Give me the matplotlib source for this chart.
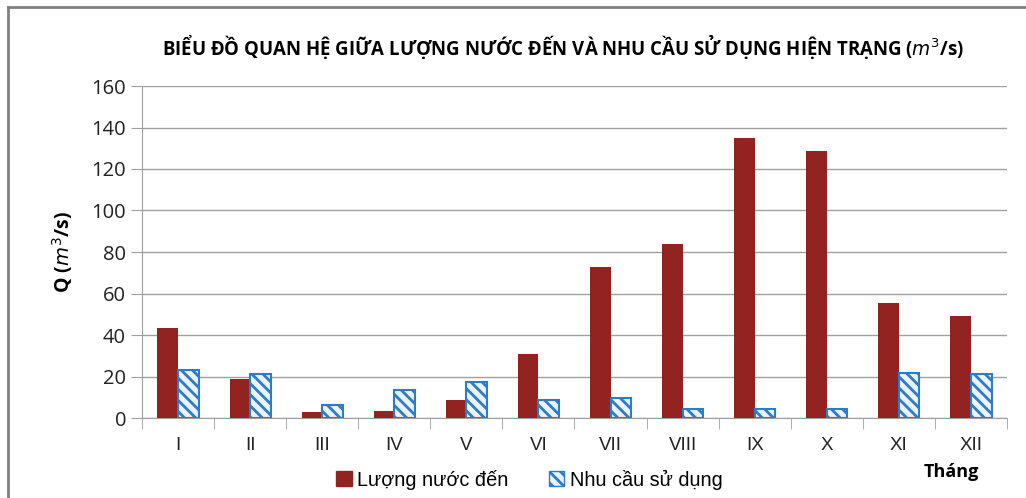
import matplotlib
matplotlib.use('Agg')

import numpy as np
import matplotlib.pyplot as plt
from matplotlib.lines import Line2D

months = ['I', 'II', 'III', 'IV', 'V', 'VI', 'VII', 'VIII', 'IX', 'X', 'XI', 'XII']
inflow = [43.5, 19, 3, 3.5, 8.5, 31, 73, 84, 135, 128.5, 55.5, 49]
demand = [23, 21, 6.5, 13.5, 17.5, 8.5, 9.5, 4.5, 4.5, 4.5, 21.5, 21]

plt.rcParams['font.family'] = ['Open Sans', 'DejaVu Sans']
plt.rcParams['hatch.linewidth'] = 2.0
plt.rcParams['hatch.color'] = '#1F6FB5'

fig = plt.figure(figsize=(10.26, 4.98), dpi=100)
ax = fig.add_axes([142/1026, 80/498, 865/1026, 332/498])

ind = np.arange(len(months))
width = 0.285
ax.bar(ind - width/2, inflow, width, color='#922321', zorder=3)
ax.bar(ind + width/2, demand, width, facecolor='#EAF3FB', edgecolor='#2E7CC4',
       hatch='\\\\\\', linewidth=1.5, zorder=3)

ax.set_xlim(-0.5, len(months) - 0.5)
ax.set_ylim(0, 160)
ax.set_yticks(np.arange(0, 161, 20))
ax.yaxis.grid(True, color='#A0A0A0', linewidth=1, zorder=0)
for s in ['top', 'right']:
    ax.spines[s].set_visible(False)
for s in ['left', 'bottom']:
    ax.spines[s].set_color('#A0A0A0')
ax.tick_params(axis='y', colors='#A0A0A0', length=8, labelcolor='#222222', labelsize=14.5)
ax.set_xticks(ind)
ax.set_xticklabels(months, fontsize=13.5, family='Liberation Sans', color='#222222')
ax.set_xticks(np.arange(-0.5, len(months)), minor=True)
ax.tick_params(axis='x', which='major', length=0, pad=14)
ax.tick_params(axis='x', which='minor', length=8, colors='#A0A0A0')

ax.set_ylabel(r'Q ($\mathit{m}^3$/s)', fontsize=14, fontweight='bold', labelpad=12)

fig.text(0.549, 0.905, 'BIỂU ĐỒ QUAN HỆ GIỮA LƯỢNG NƯỚC ĐẾN VÀ NHU CẦU SỬ DỤNG HIỆN TRẠNG ($\\mathit{m}^3$/s)',
         ha='center', va='center', fontsize=13.4, fontweight='bold')
fig.text(0.927, 0.052, 'Tháng', ha='center', va='center', fontsize=13, fontweight='bold')

handles = [plt.Rectangle((0, 0), 1, 1, color='#922321'),
           plt.Rectangle((0, 0), 1, 1, facecolor='#EAF3FB', edgecolor='#2E7CC4', hatch='\\\\\\')]
fig.legend(handles, ['Lượng nước đến', 'Nhu cầu sử dụng'], loc='center',
           bbox_to_anchor=(0.516, 0.037), ncol=2, frameon=False,
           prop={'family': 'Liberation Sans', 'size': 14.3},
           handlelength=0.8, handleheight=0.8, handletextpad=0.3, columnspacing=2.0)

fig.add_artist(Line2D([8/1026, 8/1026], [0, 1 - 7/498], color='#808080', linewidth=2))
fig.add_artist(Line2D([8/1026, 1], [1 - 7/498, 1 - 7/498], color='#808080', linewidth=2))

plt.savefig('out.png', dpi=100)
